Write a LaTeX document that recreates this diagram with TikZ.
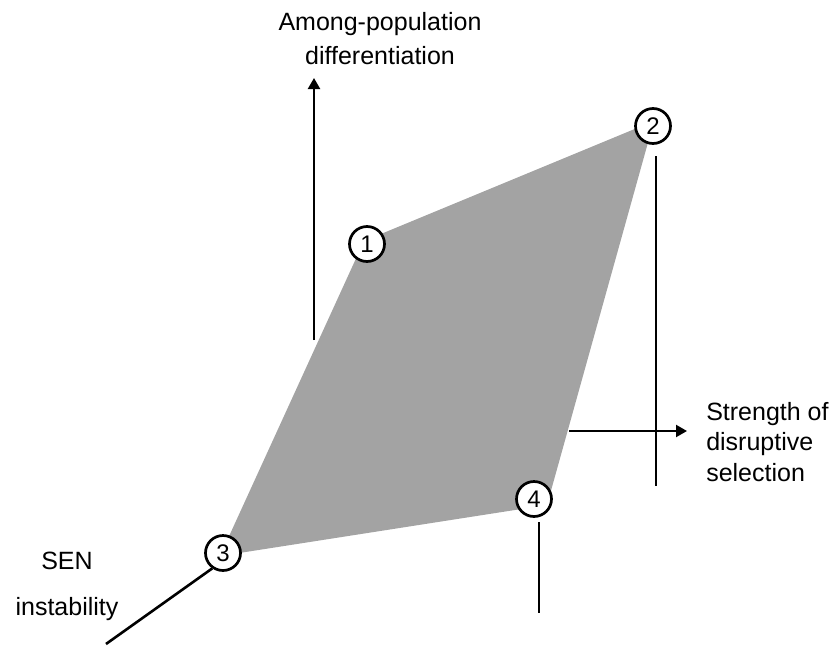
\documentclass[tikz,border=0pt]{standalone}
\usepackage{fontspec}
\setmainfont{Liberation Sans}
\usetikzlibrary{arrows.meta}

\begin{document}
\begin{tikzpicture}[x=1pt,y=-1pt,line width=2.5pt,
  corner/.style={circle,draw,fill=white,inner sep=0pt,minimum size=35pt,line width=2.7pt,font=\fontsize{24}{28}\selectfont},
  axis/.style={line width=2.6pt},
  tip/.style={-{Triangle[length=11pt,width=12pt]}}]
\path[use as bounding box] (0,0) rectangle (833,646);
\fill[black!36] (364,241) -- (654,121) -- (547,505) -- (220,556) -- cycle;
\coordinate (ybot) at (314,340);
\coordinate (ytop) at (314,78);
\coordinate (rtop) at (656,156);
\coordinate (rbot) at (656,486);
\coordinate (xbeg) at (569,431);
\coordinate (xend) at (687,431);
\coordinate (dtop) at (539,522);
\coordinate (dbot) at (539,613);
\coordinate (zend) at (106,644);
\draw[axis,line width=2.2pt,tip] (ybot) -- (ytop);
\draw[axis] (rtop) -- (rbot);
\draw[axis,line width=2.2pt,tip] (xbeg) -- (xend);
\draw[axis] (dtop) -- (dbot);
\node[corner] (n1) at (367,244) {1};
\node[corner] (n2) at (653,126) {2};
\node[corner] (n3) at (223,553) {3};
\node[corner] (n4) at (534,499) {4};
\draw[axis] (n3.235) -- (zend);
\node[anchor=north,align=center,inner sep=0pt,font=\fontsize{25}{34}\selectfont] (ylab) at (380,11) {Among-population\\differentiation};
\node[anchor=north west,align=left,inner sep=0pt,font=\fontsize{25}{30.5}\selectfont] (xlab) at (705,401) {Strength of\\disruptive\\selection};
\node[anchor=north,align=center,inner sep=0pt,font=\fontsize{25}{46}\selectfont] (zlab) at (67,551) {SEN\\instability};
\end{tikzpicture}
\end{document}
